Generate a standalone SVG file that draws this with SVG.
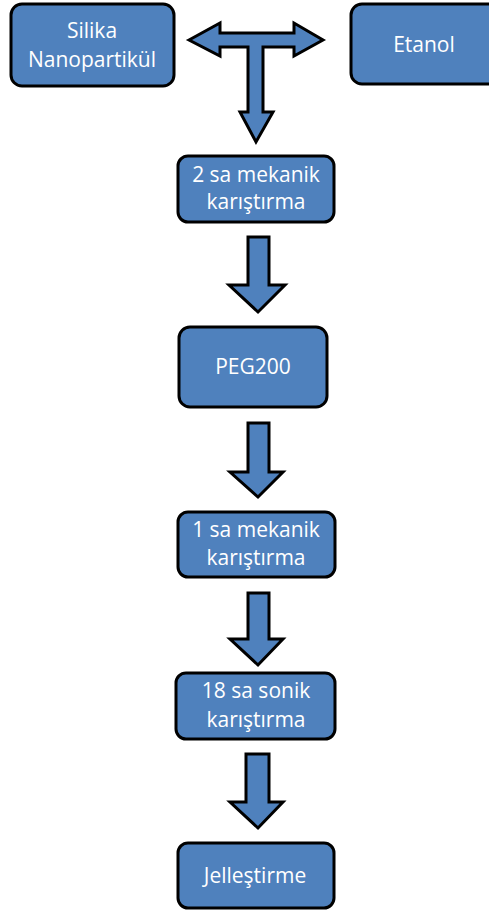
<svg xmlns="http://www.w3.org/2000/svg" width="489" height="911" viewBox="0 0 489 911">
<style>
.box{fill:#4F81BD;stroke:#000;stroke-width:3;}
.arr{fill:#4F81BD;stroke:#000;stroke-width:3;stroke-linejoin:miter;}
text{font-family:"Open Sans","Liberation Sans",sans-serif;font-size:21px;fill:#fff;text-anchor:middle;}
</style>
<rect width="489" height="911" fill="#fff"/>
<g id="silika"><rect class="box" x="11" y="4" width="163" height="82" rx="11"/><text x="92" y="38">Silika</text><text x="92" y="67">Nanopartikül</text></g>
<g id="etanol"><rect class="box" x="351" y="4" width="150" height="80" rx="11"/><text x="424" y="52">Etanol</text></g>
<g id="mix2"><rect class="box" x="178" y="156" width="156" height="66" rx="10"/><text x="256" y="182">2 sa mekanik</text><text x="256" y="209">karıştırma</text></g>
<g id="peg"><rect class="box" x="179" y="327" width="148" height="80" rx="11"/><text x="253" y="374">PEG200</text></g>
<g id="mix1"><rect class="box" x="178" y="512" width="157" height="65" rx="10"/><text x="256" y="537">1 sa mekanik</text><text x="256" y="565">karıştırma</text></g>
<g id="sonik"><rect class="box" x="176" y="673" width="159" height="66" rx="10"/><text x="256" y="698">18 sa sonik</text><text x="256" y="727">karıştırma</text></g>
<g id="jel"><rect class="box" x="178" y="843" width="156" height="65" rx="10"/><text x="255" y="883">Jelleştirme</text></g>
<g id="connectors">
<path class="arr" d="M189,40 L220,23 L220,33 L294,33 L294,23 L323,40 L294,56 L294,47 L263,47 L263,112 L273,112 L256,142 L240,112 L248,112 L248,47 L220,47 L220,56 Z"/>
<path class="arr" d="M248,237 L269,237 L269,285 L285,285 L258,312 L229,285 L248,285 Z"/>
<path class="arr" d="M248,423 L269,423 L269,472 L283,472 L258,497 L230,472 L248,472 Z"/>
<path class="arr" d="M248,593 L269,593 L269,639 L283,639 L258,665 L230,639 L248,639 Z"/>
<path class="arr" d="M246,754 L269,754 L269,802 L283,802 L258,828 L230,802 L246,802 Z"/>
</g>
</svg>
